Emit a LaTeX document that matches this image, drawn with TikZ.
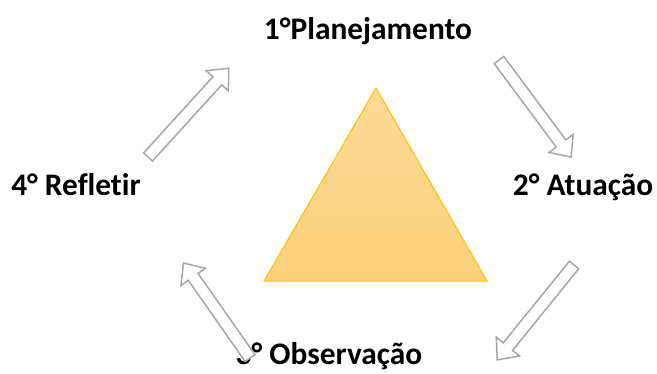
\documentclass[tikz,border=0pt]{standalone}
\usepackage{fontspec}
\setmainfont{Carlito}[Ligatures=NoCommon]
\definecolor{triTop}{HTML}{FDDA98}
\definecolor{triBot}{HTML}{FCD07A}
\definecolor{triEdge}{HTML}{FFC000}
\begin{document}
\begin{tikzpicture}[x=1bp,y=-1bp]
\tikzstyle{stage}=[font=\bfseries\fontsize{31.5}{36}\selectfont,anchor=base,inner sep=0pt]
\tikzstyle{tri}=[draw=triEdge,line width=1bp,top color=triTop,bottom color=triBot]
\tikzstyle{blockarrow}=[draw=black!35,line width=1.5bp,fill=white,line join=miter]
\useasboundingbox (0,0) rectangle (657,373);

\coordinate (t1) at (376,88);
\coordinate (t2) at (487,281);
\coordinate (t3) at (264,281);
\draw[tri] (t1) -- (t2) -- (t3) -- cycle;

\node[stage] at (368,39) (plan) {1°Planejamento};
\node[stage] at (583,195) (atua) {2° Atuação};
\node[stage] at (329,364) (obs) {3° Observação};
\node[stage] at (76,195) (refl) {4° Refletir};

\draw[blockarrow,shift={(148,157)},rotate=47.7] (0,-6) -- (103,-6) -- (103,-15) -- (120,0) -- (103,15) -- (103,6) -- (0,6) -- cycle;
\draw[blockarrow,shift={(499,60)},rotate=-53.4] (0,-6) -- (104,-6) -- (104,-15) -- (121,0) -- (104,15) -- (104,6) -- (0,6) -- cycle;
\draw[blockarrow,shift={(574,265)},rotate=-129] (0,-6) -- (105,-6) -- (105,-15) -- (122,0) -- (105,15) -- (105,6) -- (0,6) -- cycle;
\draw[blockarrow,shift={(250,358)},rotate=125] (0,-6) -- (99,-6) -- (99,-15) -- (116,0) -- (99,15) -- (99,6) -- (0,6) -- cycle;
\end{tikzpicture}
\end{document}
